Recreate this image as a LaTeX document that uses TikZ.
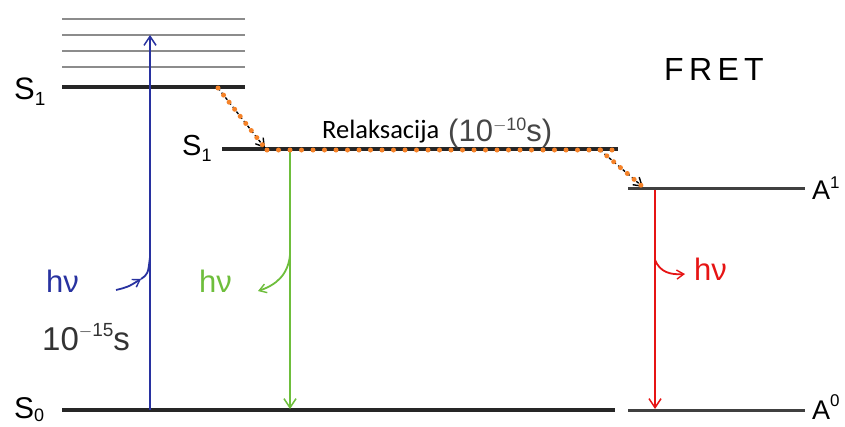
\documentclass[tikz,border=0pt]{standalone}
\usepackage{fontspec}
\setmainfont{Liberation Sans}
\newfontfamily\calib{Carlito}
\usetikzlibrary{arrows.meta}
\definecolor{myblue}{RGB}{40,50,160}
\definecolor{mygreen}{RGB}{110,190,60}
\definecolor{myred}{RGB}{230,20,20}
\definecolor{myorange}{RGB}{245,130,40}
\definecolor{mygray}{RGB}{70,70,70}
\newcommand{\fsz}[1]{\fontsize{#1}{#1}\selectfont}
\begin{document}
\begin{tikzpicture}[x=1pt,y=-1pt,
  level/.style={line width=4pt, black!85},
  alevel/.style={line width=3pt, black!75},
  vib/.style={line width=2.5pt, black!45},
  lbl/.style={inner sep=0pt, anchor=base west},
  tip/.style={-{Straight Barb[length=9pt,width=12pt,line width=1.5pt]}},
  relax/.style={dashed, line width=1.4pt, black, -{Straight Barb[length=8pt,width=10pt,line width=1.4pt]}},
  dots/.style={myorange, line width=5pt, line cap=round, dash pattern=on 0pt off 9pt},
  photon/.style={line width=1.8pt},
]
\useasboundingbox[fill=white] (0,0) rectangle (845,426);

% vibrational levels
\foreach \y/\n in {19/a,35/b,51/c,67/d}{
  \coordinate (v\n L) at (62,\y);
  \coordinate (v\n R) at (245,\y);
  \draw[vib] (v\n L) -- (v\n R);
}
% electronic levels
\coordinate (s1aL) at (62,87);   \coordinate (s1aR) at (245,87);
\coordinate (s1bL) at (222,149); \coordinate (s1bR) at (618,149);
\coordinate (a1L) at (628,188);  \coordinate (a1R) at (805,188);
\coordinate (s0L) at (62,410);   \coordinate (s0R) at (615,410);
\coordinate (a0L) at (628,410);  \coordinate (a0R) at (805,410);
\draw[level] (s1aL) -- (s1aR);
\draw[level] (s1bL) -- (s1bR);
\draw[alevel] (a1L) -- (a1R);
\draw[level] (s0L) -- (s0R);
\draw[alevel] (a0L) -- (a0R);

% labels
\node[lbl] (ls1a) at (14,99) {\fsz{31}S\raisebox{-6pt}{\fsz{19}1}};
\node[lbl] (ls1b) at (182,155) {\fsz{29}S\raisebox{-6pt}{\fsz{18}1}};
\node[lbl] (ls0) at (14,418) {\fsz{30}S\raisebox{-3pt}{\fsz{18}0}};
\node[lbl] (la1) at (812,199) {\fsz{27}A\raisebox{11pt}{\fsz{17}1}};
\node[lbl] (la0) at (812,419) {\fsz{27}A\raisebox{13pt}{\fsz{17}0}};
\node[lbl] (fret) at (664,80) {\fsz{32}F\,R\,E\,T};
\node[lbl] (relax) at (322,138) {\calib\fsz{26.5}Relaksacija};
\node[lbl, text=mygray] (relaxt) at (448,141) {\fsz{31}(10\raisebox{11pt}{\fsz{18}$-$10}s)};

% blue absorption
\coordinate (bB) at (150,410);
\coordinate (bT) at (150,35);
\draw[myblue, photon, tip] (bB) -- (bT);
\node[lbl, text=myblue] (hvb) at (46,292) {\fsz{31}hν};
\coordinate (cb1) at (116,290);
\coordinate (cb2) at (141,279);
\coordinate (cb3) at (150,257);
\draw[myblue, photon, -{Straight Barb[length=7pt,width=9pt,line width=1.4pt]}] (cb1) .. controls (128,287) .. (cb2);
\draw[myblue, photon] (cb2) .. controls (148,274) .. (cb3);
\node[lbl, text=black!80] (t15) at (42,350) {\fsz{33}10\raisebox{14pt}{\fsz{19}$-$15}s};

% green emission
\coordinate (gT) at (290,150);
\coordinate (gB) at (290,409);
\draw[mygreen, photon, tip] (gT) -- (gB);
\node[lbl, text=mygreen] (hvg) at (199,292) {\fsz{31}hν};
\coordinate (cg1) at (290,255);
\coordinate (cg2) at (258,291);
\draw[mygreen, photon, -{Straight Barb[length=7pt,width=9pt,line width=1.4pt]}] (cg1) .. controls (288,275) and (276,285) .. (cg2);

% red emission
\coordinate (rT) at (655,190);
\coordinate (rB) at (655,409);
\draw[myred, photon, tip] (rT) -- (rB);
\node[lbl, text=myred] (hvr) at (694,280) {\fsz{31}hν};
\coordinate (cr1) at (655,260);
\coordinate (cr2) at (685,274);
\draw[myred, photon, -{Straight Barb[length=7pt,width=9pt,line width=1.4pt]}] (cr1) .. controls (660,272) and (670,275) .. (cr2);

% relaxation arrows
\coordinate (r1a) at (218,88);
\coordinate (r1b) at (265,148);
\coordinate (r2a) at (600,150);
\coordinate (r2b) at (643,187);
\draw[relax] (r1a) -- (r1b);
\draw[relax] (r2a) -- (r2b);
\draw[dots] (r1a) -- (r1b);
\draw[dots] (r2a) -- (r2b);
\coordinate (dL) at (267,150);
\coordinate (dR) at (614,150);
\draw[dots, dash pattern=on 0pt off 11.5pt] (dL) -- (dR);
\end{tikzpicture}
\end{document}
